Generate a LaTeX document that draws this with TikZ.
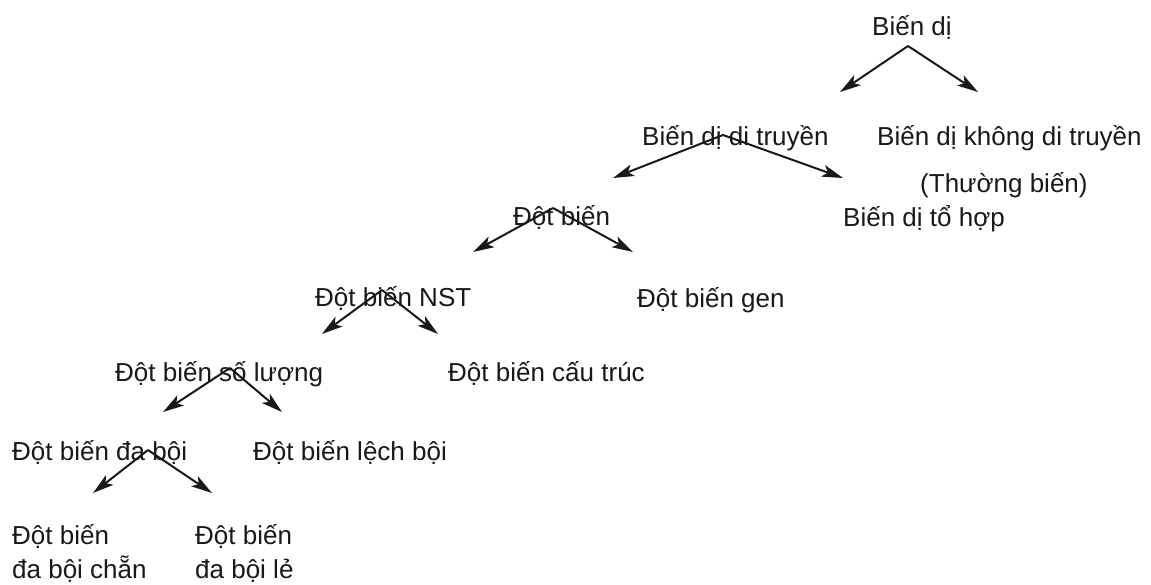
\documentclass[tikz,border=0pt]{standalone}
\usepackage{fontspec}
\setmainfont{Liberation Sans}
\usetikzlibrary{arrows.meta}
\begin{document}
\begin{tikzpicture}[x=1pt,y=-1pt,
  lbl/.style={anchor=base west,inner sep=0pt,font=\fontsize{26}{34}\selectfont,text=black!90},
  two/.style={lbl,align=left},
  arr/.style={line width=2pt,draw=black!90,-{Stealth[length=21pt,width=12pt,inset=5pt]}}]
\useasboundingbox[fill=white] (0,0) rectangle (1151,585);
% nodes
\node[lbl] (bd) at (872,36) {Biến dị};
\node[lbl] (bddt) at (642,146) {Biến dị di truyền};
\node[lbl] (bdk) at (877,146) {Biến dị không di truyền};
\node[lbl] (tb) at (920,193) {(Thường biến)};
\node[lbl] (bdth) at (843,227) {Biến dị tổ hợp};
\node[lbl] (db) at (513,226) {Đột biến};
\node[lbl] (nst) at (315,307) {Đột biến NST};
\node[lbl] (gen) at (637,308) {Đột biến gen};
\node[lbl] (sl) at (115,381) {Đột biến số lượng};
\node[lbl] (ct) at (448,381) {Đột biến cấu trúc};
\node[lbl] (dab) at (12,460) {Đột biến đa bội};
\node[lbl] (lb) at (253,460) {Đột biến lệch bội};
\node[two] (chan) at (12,578) {Đột biến\\đa bội chẵn};
\node[two] (le) at (195,578) {Đột biến\\đa bội lẻ};
% connector points
\coordinate (a1) at (908,46);  \coordinate (l1) at (840,92);  \coordinate (r1) at (978,92);
\coordinate (a2) at (723,135); \coordinate (l2) at (613,178); \coordinate (r2) at (843,178);
\coordinate (a3) at (553,208); \coordinate (l3) at (473,252); \coordinate (r3) at (633,252);
\coordinate (a4) at (382,290); \coordinate (l4) at (322,334); \coordinate (r4) at (438,334);
\coordinate (a5) at (230,368); \coordinate (l5) at (163,412); \coordinate (r5) at (282,412);
\coordinate (a6) at (148,450); \coordinate (l6) at (93,493);  \coordinate (r6) at (212,493);
\foreach \i in {1,...,6}{
  \draw[arr] (a\i) -- (l\i);
  \draw[arr] (a\i) -- (r\i);
}
\end{tikzpicture}
\end{document}
